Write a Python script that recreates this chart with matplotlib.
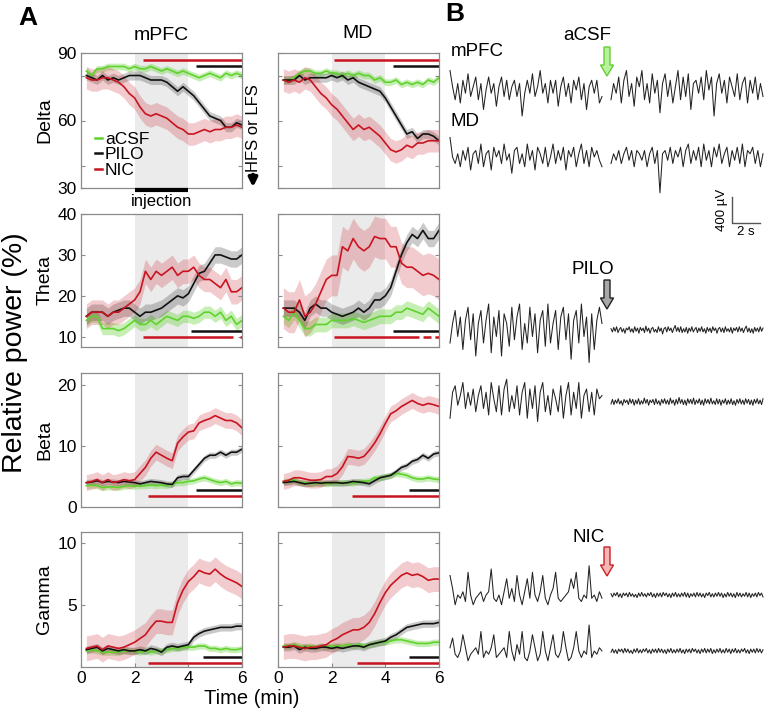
import numpy as np
import matplotlib.pyplot as plt
from matplotlib.patches import FancyArrow

plt.rcParams['font.family'] = ['Liberation Sans', 'DejaVu Sans']

# time axis of panel A (min)
time_min = [0.2, 0.4, 0.6, 0.8, 1.0, 1.2, 1.4, 1.6, 1.8, 2.0,
            2.2, 2.4, 2.6, 2.8, 3.0, 3.2, 3.4, 3.6, 3.8, 4.0,
            4.2, 4.4, 4.6, 4.8, 5.0, 5.2, 5.4, 5.6, 5.8, 6.0]

# relative power (%), mean traces
delta_pfc_acsf = [82, 80, 83, 83, 84, 84, 84, 84, 83, 84, 83, 83, 84, 83, 82, 83, 82, 81, 82, 81, 80, 79, 80, 81, 80, 79, 81, 80, 81, 80]
delta_pfc_pilo = [80, 79, 78, 80, 78, 79, 78, 79, 80, 80, 80, 79, 78, 78, 78, 77, 75, 73, 75, 73, 71, 68, 65, 62, 61, 60, 57, 57, 59, 58]
delta_pfc_nic = [79, 78, 78, 79, 79, 78, 77, 75, 72, 70, 66, 63, 62, 63, 62, 61, 59, 57, 56, 54, 54, 55, 56, 55, 56, 56, 57, 57, 58, 57]
delta_md_acsf = [78, 78, 79, 81, 82, 82, 81, 81, 82, 81, 81, 80, 81, 80, 81, 80, 80, 78, 79, 77, 77, 78, 76, 77, 76, 77, 76, 78, 77, 79]
delta_md_pilo = [78, 78, 78, 80, 78, 79, 79, 79, 79, 80, 79, 80, 78, 79, 77, 76, 75, 74, 73, 70, 66, 62, 58, 54, 55, 52, 54, 54, 53, 51]
delta_md_nic = [78, 77, 78, 77, 79, 78, 75, 72, 70, 67, 65, 62, 59, 56, 58, 56, 57, 55, 53, 50, 47, 46, 47, 49, 48, 50, 50, 51, 51, 51]

theta_pfc_acsf = [14, 15, 15, 12, 12, 12, 11.5, 12, 13, 14, 13, 13, 14, 13, 14, 15, 14.5, 14, 15, 15, 14.5, 15, 16, 16, 15, 16, 14, 15, 13, 14]
theta_pfc_pilo = [15, 16, 16, 16, 15, 16, 16.5, 17, 17, 16, 15, 16, 16, 16.5, 17, 18, 19, 20, 19.5, 20.5, 23, 25.5, 26, 28, 30, 30, 29.5, 29, 29, 30]
theta_pfc_nic = [15, 16, 16, 16, 15, 16, 16, 17, 18, 19, 21, 26, 24, 26, 25, 26, 27, 25, 26, 26, 27, 25, 24, 24, 23, 22, 24, 21, 21, 22]
theta_md_acsf = [15, 14, 16, 14, 12, 12, 13, 13, 13, 14, 14, 14, 14, 14.5, 14, 13.5, 14, 14.5, 15, 15, 15, 16, 16, 17, 16.5, 16, 15.5, 17, 16, 15]
theta_md_pilo = [17, 17, 17, 16, 14, 17, 18, 17, 17, 16, 15.5, 15, 15.5, 16, 17, 16, 17, 19, 19, 20, 22, 26, 30, 33, 35, 34, 36, 34, 34, 36]
theta_md_nic = [17, 16, 16, 19, 15, 16, 18, 21, 24, 25, 25, 32, 31, 34, 32, 31, 32, 34.5, 34, 34, 32, 32, 28, 27, 27, 26, 25, 25.5, 25, 24]

beta_pfc_acsf = [3.5, 3.6, 3.5, 3.2, 3.3, 3.3, 3.2, 3.4, 3.5, 3.4, 3.5, 3.5, 3.6, 3.5, 3.6, 3.5, 3.8, 4.0, 4.0, 4.2, 4.3, 4.6, 4.8, 4.5, 4.2, 4.0, 4.2, 3.8, 4.0, 3.9]
beta_pfc_pilo = [4.0, 4.1, 4.3, 4.0, 4.2, 4.1, 4.0, 4.2, 4.1, 4.0, 3.8, 4.0, 4.2, 4.1, 4.0, 3.8, 3.7, 4.8, 5.0, 5.0, 6.0, 7.0, 8.0, 8.5, 8.5, 9.0, 8.5, 9.0, 9.0, 9.5]
beta_pfc_nic = [4.0, 4.2, 4.5, 4.0, 4.5, 4.0, 4.2, 4.5, 4.3, 4.5, 5.5, 6.5, 8.0, 9.0, 8.5, 8.0, 7.6, 10.5, 11.5, 12.3, 12.5, 13.8, 14.2, 14.5, 15.0, 14.6, 14.2, 14.2, 13.8, 13.0]
beta_md_acsf = [4.2, 4.2, 4.5, 4.0, 4.0, 3.8, 3.9, 4.0, 3.8, 3.9, 3.9, 4.0, 4.0, 3.9, 4.2, 4.2, 4.3, 4.8, 4.8, 5.0, 5.2, 5.5, 5.4, 5.2, 4.8, 4.6, 4.6, 4.8, 4.6, 4.5]
beta_md_pilo = [4.0, 4.1, 4.2, 4.0, 3.8, 3.9, 4.0, 3.9, 4.0, 4.0, 4.0, 3.9, 4.0, 4.2, 4.1, 4.0, 3.8, 4.3, 4.8, 5.0, 5.2, 5.8, 6.5, 6.8, 7.5, 7.8, 8.5, 8.0, 8.7, 8.9]
beta_md_nic = [4.2, 4.4, 4.8, 4.8, 4.6, 4.4, 4.4, 4.5, 5.0, 5.0, 5.5, 6.6, 8.3, 8.2, 8.0, 8.3, 9.3, 10.5, 12.0, 13.7, 15.3, 15.8, 16.5, 17.0, 17.5, 17.0, 16.7, 17.0, 16.8, 16.5]

gamma_pfc_acsf = [1.3, 1.4, 1.3, 1.2, 1.2, 1.2, 1.2, 1.3, 1.3, 1.3, 1.2, 1.3, 1.2, 1.3, 1.3, 1.4, 1.5, 1.5, 1.6, 1.6, 1.6, 1.7, 1.7, 1.5, 1.5, 1.4, 1.5, 1.4, 1.4, 1.5]
gamma_pfc_pilo = [1.4, 1.5, 1.6, 1.3, 1.5, 1.4, 1.3, 1.4, 1.3, 1.3, 1.4, 1.3, 1.5, 1.4, 1.2, 1.6, 1.7, 1.6, 1.7, 1.8, 2.4, 2.7, 2.9, 3.0, 3.1, 3.2, 3.2, 3.2, 3.3, 3.3]
gamma_pfc_nic = [1.5, 1.6, 1.7, 1.4, 1.7, 1.6, 1.5, 1.6, 1.8, 2.0, 2.3, 2.6, 3.2, 3.7, 3.7, 3.6, 3.6, 5.2, 6.2, 6.9, 7.3, 7.8, 7.6, 7.5, 7.9, 7.5, 7.2, 7.0, 6.8, 6.5]
gamma_md_acsf = [1.7, 1.7, 1.8, 1.7, 1.6, 1.7, 1.6, 1.7, 1.6, 1.7, 1.7, 1.7, 1.8, 1.7, 1.8, 1.7, 1.8, 1.9, 2.0, 2.0, 2.1, 2.2, 2.2, 2.1, 2.0, 1.9, 1.9, 1.9, 2.0, 2.0]
gamma_md_pilo = [1.6, 1.6, 1.7, 1.4, 1.6, 1.5, 1.5, 1.6, 1.6, 1.5, 1.6, 1.5, 1.6, 1.7, 1.7, 1.6, 1.8, 1.9, 2.0, 2.1, 2.4, 2.6, 2.9, 3.2, 3.3, 3.4, 3.5, 3.5, 3.5, 3.6]
gamma_md_nic = [1.6, 1.7, 1.7, 1.6, 1.5, 1.6, 1.6, 1.7, 1.8, 2.1, 2.3, 2.6, 2.8, 3.0, 3.0, 3.2, 3.6, 4.3, 5.2, 6.0, 6.6, 7.0, 7.4, 7.6, 7.4, 7.5, 7.3, 7.0, 7.1, 7.1]

# SEM (aCSF, PILO, NIC) per band
delta_sem = [1.5, 2.0, 5.0]
theta_sem_pfc = [1.5, 2.0, 3.0]
theta_sem_md = [1.8, 2.0, 5.0]
beta_sem = [0.5, 0.5, 1.3]
gamma_sem = [0.25, 0.3, 1.0]

# significant periods (min): PILO (black) and NIC (red)
sig_pilo_pfc = [[(4.3, 6)], [(4.1, 6)], [(4.3, 6)], [(4.55, 6)]]
sig_pilo_md = [[(4.3, 6)], [(4.3, 6)], [(4.9, 6)], [(4.9, 6)]]
sig_nic_pfc = [[(2.3, 6)], [(2.3, 5.67), (5.93, 6)], [(2.5, 6)], [(2.5, 6)]]
sig_nic_md = [[(2.1, 6)], [(2.1, 5.26), (5.4, 5.7), (5.85, 6)], [(2.75, 6)], [(2.95, 6)]]

# panel B traces (units of 10 uV), before / after injection
acsf_pfc_pre = [30, 5, -15, 10, -20, 15, -5, 25, -10, 5, 20, -15, 10, -30, 0, 20, -5, 10, -25, 5, 20, -10, 15, -15, 5, 15, -10, 10, -40, -5, 15, -5, 25, -10, 5, 30, -5, 10, -20, 15, -5, 15, -25, 5, 20, -10, 10, -20, 15, 0, 20, -15, 10, -30, 5, 15, -5, 15, -20, -10]
acsf_pfc_post = [-15, 10, -5, 20, -20, 15, 30, -10, 10, -25, 20, 5, 30, -15, 10, -20, 25, -5, 15, -35, 10, 25, -10, 15, -20, 5, 30, -15, 20, -10, 25, -30, 10, 15, -5, 20, -15, 30, 0, 20, -40, 10, 25, -5, 15, -20, 20, 5, -10, 25, -15, 10, 20, -20, 15, -5, 20, -15, 10, -10]
acsf_md_pre = [30, 0, -10, 5, -15, 10, -5, 15, -20, 5, 10, -10, 20, -15, 5, 10, -20, 15, 0, 10, -10, 20, -5, 5, -25, 10, 15, -10, 5, -15, 20, -5, 10, -20, 15, 5, -10, 15, -15, 0, 20, -10, 10, -5, 15, -20, 10, 0, 15, -15, 5, 20, -10, 10, -15, 15, 0, 10, -5, -15]
acsf_md_post = [-10, 5, -5, 10, -10, 5, 15, -5, 10, -15, 10, 5, -5, 10, -15, 5, 15, -10, 10, -55, 5, 10, -5, 15, -10, 10, 0, 15, -15, 10, 20, -10, 10, -5, 15, -15, 20, -5, 10, -15, 15, 0, 20, -10, 5, 15, -15, 10, -5, 15, -10, 20, -15, 10, 5, 15, -10, 10, -15, 5]
pilo_pfc_pre = [-20, 10, 30, -10, 20, -30, 15, 35, -15, 25, -40, 10, 30, -20, 15, 40, -35, 20, -10, 30, -40, 25, 10, -25, 35, -15, 20, 40, -30, 10, -20, 35, -10, 25, -35, 15, 30, -25, 40, -20, 10, 30, -30, 20, 35, -15, 25, -45, 15, 30, -20, 40, -10, 20, -50, 25, -30, 15, 35, 10]
pilo_pfc_post = [2, -3, 4, -2, 5, -4, 1, 4, -3, 2, -5, 3, 0, 5, -3, 2, -4, 5, -2, 3, -5, 4, -1, 3, -4, 6, -2, 3, -5, 2, 4, -3, 1, -4, 5, -2, 3, -6, 2, 4, -3, 5, -1, 3, -4, 2, 7, -2, 4, -3, 5, -4, 2, -3, 4, -5, 3, -2, 5, -3, 1, 4, -4, 3, -2, 5, -3, 2, -5, 4, -2, 3, -4, 5, -1, 3, -5, 2, 4, -3, 3, -4, 5, -2, 2, -3, 4, -5, 3, -1, 4, -3, 5, -2, 3, -4, 2, 6, -3, 3, -4, 2, -5, 4, -2, 3, -3, 5, -2, 3]
pilo_md_pre = [-25, 15, 25, -5, 10, 30, -10, 15, -5, 20, -15, 10, 25, -10, 15, -20, 30, 5, -15, 25, -20, 20, 35, -15, 10, -10, 25, -20, 15, 30, -25, 20, -10, 25, -30, 15, 30, -15, 10, -20, 20, 5, -15, 25, -25, 10, 30, -20, 15, -10, 30, -25, 10, 20, -15, 15, -20, 20, 5, 10]
pilo_md_post = [-3, 4, -4, 3, -2, 5, -3, 2, -5, 4, -1, 3, -4, 5, -2, 4, -5, 3, -3, 5, -4, 2, -3, 6, -2, 4, -5, 3, -1, 4, -4, 5, -3, 2, -5, 4, -2, 5, -3, 3, -4, 6, -2, 3, -5, 4, -3, 7, -2, 4, -4, 3, -5, 5, -2, 4, -3, 6, -4, 3, -2, 5, -4, 3, -5, 5, -2, 4, -3, 6, -3, 2, -4, 5, -3, 4, -5, 3, -2, 5, -4, 3, -3, 5, -4, 2, -5, 4, -2, 5, -3, 3, -4, 5, -2, 4, -4, 3, -5, 4, -2, 5, -3, 3, -4, 5]
nic_pfc_pre = [30, 10, -15, 0, -5, 5, -10, 35, 0, -15, -5, 0, 5, -10, 0, 5, 40, -5, -10, 0, -15, 5, 25, -5, 10, -10, 30, 0, -15, 5, 25, -5, 35, 0, -10, 5, 30, -5, -15, 0, 10, 35, -5, -10, -5, 0, 5, 25, 10, 35, -5, -10, 0, -5, 45, -5, 0, -10, 5, -5]
nic_pfc_post = [2, -3, 3, -1, 4, -3, 2, -4, 3, -1, 3, -3, 4, -2, 2, -3, 1, -4, 3, -2, 4, -2, 2, -3, 3, -1, 4, -3, 2, -4, 3, -2, 3, -3, 4, -1, 3, -3, 2, -4, 3, -2, 4, -3, 2, -3, 3, -2, 4, -3, 3, -4, 2, -2, 3, -3, 4, -2, 3, -3, 2, -4, 3, -1, 4, -3, 2, -3, 3, -2, 4, -2, 3, -4, 2, -3, 4, -2, 3, -3, 2, -4, 4, -2, 3, -3, 2, -2, 4, -3, 3, -4, 2, -2, 3, -3, 4, -1, 3, -3]
nic_md_pre = [5, 20, -5, -10, 0, 25, 5, -15, -5, 0, 5, -5, 30, -10, 0, -5, 5, 25, -10, -5, 0, 5, -10, 30, 0, -15, 10, -5, 30, -10, -15, 0, 25, 5, -15, -5, 30, 0, -15, 5, 25, -5, -10, 0, 30, 5, -15, -10, 5, 30, 0, -10, 0, -5, 40, -10, 0, -5, 5, 0]
nic_md_post = [-2, 3, -3, 2, -4, 3, -1, 3, -3, 4, -2, 3, -3, 1, -4, 3, -2, 4, -3, 2, -3, 3, -1, 4, -3, 2, -4, 3, -2, 3, -3, 4, -2, 3, -3, 2, -4, 3, -2, 4, -3, 2, -3, 3, -2, 4, -3, 2, -4, 3, -2, 3, -3, 4, -1, 3, -3, 2, -4, 3, -2, 4, -3, 3, -2, 4, -4, 2, -3, 3, -2, 4, -3, 2, -3, 4, -2, 3, -4, 3, -2, 4, -3, 2, -3, 3, -1, 4, -3, 2, -4, 3, -2, 3, -3, 4, -2, 3, -3, 2]

W, H = 768, 715
fig = plt.figure(figsize=(7.68, 7.15), dpi=100)

GREEN = '#5fd22d'
BLACK = '#111111'
RED = '#c81420'
EDGE = '#8a8a8a'


def px_axes(x0, y0, x1, y1):
    return fig.add_axes([x0 / W, 1 - y1 / H, (x1 - x0) / W, (y1 - y0) / H])


def ftext(x, y, s, **kw):
    fig.text(x / W, 1 - y / H, s, **kw)


bands = ['Delta', 'Theta', 'Beta', 'Gamma']
rows_px = [(53, 188), (214, 347), (373, 507), (532, 667)]
cols_px = [(81, 242), (278, 439)]
ylims = [(30, 90), (7.5, 40), (0, 22), (0, 10.9)]
yticks = [[30, 60, 90], [10, 20, 30, 40], [0, 10, 20], [5, 10]]
sig_y = [(84.2, 86.9), (11.5, 10.0), (2.8, 1.8), (0.8, 0.35)]

series = {
    (0, 0): (delta_pfc_acsf, delta_pfc_pilo, delta_pfc_nic),
    (0, 1): (delta_md_acsf, delta_md_pilo, delta_md_nic),
    (1, 0): (theta_pfc_acsf, theta_pfc_pilo, theta_pfc_nic),
    (1, 1): (theta_md_acsf, theta_md_pilo, theta_md_nic),
    (2, 0): (beta_pfc_acsf, beta_pfc_pilo, beta_pfc_nic),
    (2, 1): (beta_md_acsf, beta_md_pilo, beta_md_nic),
    (3, 0): (gamma_pfc_acsf, gamma_pfc_pilo, gamma_pfc_nic),
    (3, 1): (gamma_md_acsf, gamma_md_pilo, gamma_md_nic),
}
sems = {
    (0, 0): delta_sem, (0, 1): delta_sem,
    (1, 0): theta_sem_pfc, (1, 1): theta_sem_md,
    (2, 0): beta_sem, (2, 1): beta_sem,
    (3, 0): gamma_sem, (3, 1): gamma_sem,
}
sig_pilo = [sig_pilo_pfc, sig_pilo_md]
sig_nic = [sig_nic_pfc, sig_nic_md]

t = np.array(time_min)
axes = {}
for r in range(4):
    for c in range(2):
        y0, y1 = rows_px[r]
        x0, x1 = cols_px[c]
        ax = px_axes(x0, y0, x1, y1)
        axes[(r, c)] = ax
        ax.axvspan(2, 4, color='#ebebeb', lw=0, zorder=0)
        labels = ['aCSF', 'PILO', 'NIC']
        for vals, sd, col, a, lab in zip(series[(r, c)], sems[(r, c)],
                                         [GREEN, BLACK, RED], [0.35, 0.22, 0.22], labels):
            v = np.array(vals, dtype=float)
            ax.fill_between(t, v - sd, v + sd, color=col, alpha=a, lw=0)
            ax.plot(t, v, color=col, lw=1.2, label=lab)
        for a, b in sig_pilo[c][r]:
            ax.plot([a, b], [sig_y[r][0]] * 2, color=BLACK, lw=1.8, solid_capstyle='butt')
        for a, b in sig_nic[c][r]:
            ax.plot([a, b], [sig_y[r][1]] * 2, color=RED, lw=1.8, solid_capstyle='butt')
        ax.set_xlim(0, 6)
        ax.set_ylim(*ylims[r])
        ax.set_xticks([0, 2, 4, 6])
        ax.set_yticks(yticks[r])
        if r == 0:
            ax.set_yticks([40, 80], minor=True)
        ax.tick_params(direction='in', length=3, width=0.8, color=EDGE,
                       labelsize=12.5, right=True, which='both', pad=3)
        ax.tick_params(axis='x', bottom=(r == 3))
        if c == 1:
            ax.set_yticklabels([])
        if r < 3:
            ax.set_xticklabels([])
        for s in ax.spines.values():
            s.set_color(EDGE)
            s.set_linewidth(0.9)

# legend and injection bar in first panel
ax0 = axes[(0, 0)]
leg = ax0.legend(loc='lower left', bbox_to_anchor=(0.02, 0.0), frameon=False,
                 handlelength=0.45, handletextpad=0.15, labelspacing=0.0,
                 fontsize=12.5, borderaxespad=0.2)
for h in leg.legend_handles:
    h.set_linewidth(1.8)
ax0.plot([2, 4], [28.9, 28.9], color='k', lw=3.0, clip_on=False,
         solid_capstyle='butt', zorder=4)
ax0.text(3, 24.0, 'injection', ha='center', va='center', fontsize=12)

ftext(253, 128, 'HFS or LFS', rotation=90, ha='center', va='center', fontsize=12)
ax0.annotate('', xy=(253, H - 190), xytext=(253, H - 172), xycoords='figure pixels',
             textcoords='figure pixels',
             arrowprops=dict(arrowstyle='-|>', color='k', lw=3.0, mutation_scale=12))

# titles and labels
ftext(28, 18, 'A', fontsize=19, fontweight='bold', ha='center', va='center')
ftext(161, 35, 'mPFC', fontsize=14, ha='center', va='center')
ftext(358, 34, 'MD', fontsize=14, ha='center', va='center')
for r, name in enumerate(bands):
    yc = (rows_px[r][0] + rows_px[r][1]) / 2
    ftext(45, yc, name, fontsize=14, rotation=90, ha='center', va='center')
ftext(15, 353, 'Relative power (%)', fontsize=20.5, rotation=90, ha='center', va='center')
ftext(252, 698, 'Time (min)', fontsize=14.5, ha='center', va='center')

# panel B
axb = px_axes(445, 0, 768, 715)
axb.axis('off')
UV_PER_PX = 400 / 26.0
S_PER_PX = 2 / 28.0
axb.set_xlim((445 - 450) * S_PER_PX, (768 - 450) * S_PER_PX)
axb.set_ylim(-715 * UV_PER_PX, 0)

traces = [
    (acsf_pfc_pre, acsf_pfc_post, 90),
    (acsf_md_pre, acsf_md_post, 157),
    (pilo_pfc_pre, pilo_pfc_post, 330),
    (pilo_md_pre, pilo_md_post, 402),
    (nic_pfc_pre, nic_pfc_post, 595),
    (nic_md_pre, nic_md_post, 651),
]
for pre, post, ypx in traces:
    off = -ypx * UV_PER_PX
    tp = np.linspace(0, (602 - 450) * S_PER_PX, len(pre))
    tq = np.linspace((611 - 450) * S_PER_PX, (763 - 450) * S_PER_PX, len(post))
    axb.plot(tp, off + np.array(pre) * 10, color='#222222', lw=0.75)
    axb.plot(tq, off + np.array(post) * 10, color='#222222', lw=0.75)

ftext(455, 14, 'B', fontsize=19, fontweight='bold', ha='center', va='center')
ftext(451, 52, 'mPFC', fontsize=13.5, ha='left', va='center')
ftext(451, 122, 'MD', fontsize=13.5, ha='left', va='center')
ftext(587, 36, 'aCSF', fontsize=13.5, ha='center', va='center')
ftext(593, 270, 'PILO', fontsize=13.5, ha='center', va='center')
ftext(589, 538, 'NIC', fontsize=13.5, ha='center', va='center')

for ytop, fc, ec in [(47, '#b8f29c', '#66cc33'), (280, '#a8a8a8', '#222222'),
                     (547, '#f4b6b6', '#cc2222')]:
    xa = (607 - 450) * S_PER_PX
    arr = FancyArrow(xa, -ytop * UV_PER_PX, 0, -29 * UV_PER_PX,
                     width=6 * S_PER_PX, head_width=13 * S_PER_PX,
                     head_length=11 * UV_PER_PX, length_includes_head=True,
                     facecolor=fc, edgecolor=ec, lw=1.0)
    axb.add_patch(arr)

# scale bar
xs = (732 - 450) * S_PER_PX
axb.plot([xs, xs, xs + 2], [-197 * UV_PER_PX, -223 * UV_PER_PX, -223 * UV_PER_PX],
         color='#555555', lw=1.0)
ftext(722, 210, '400 µV', fontsize=9.5, rotation=90, ha='center', va='center')
ftext(746, 232, '2 s', fontsize=9.5, ha='center', va='center')

fig.savefig('out.png', dpi=100)
